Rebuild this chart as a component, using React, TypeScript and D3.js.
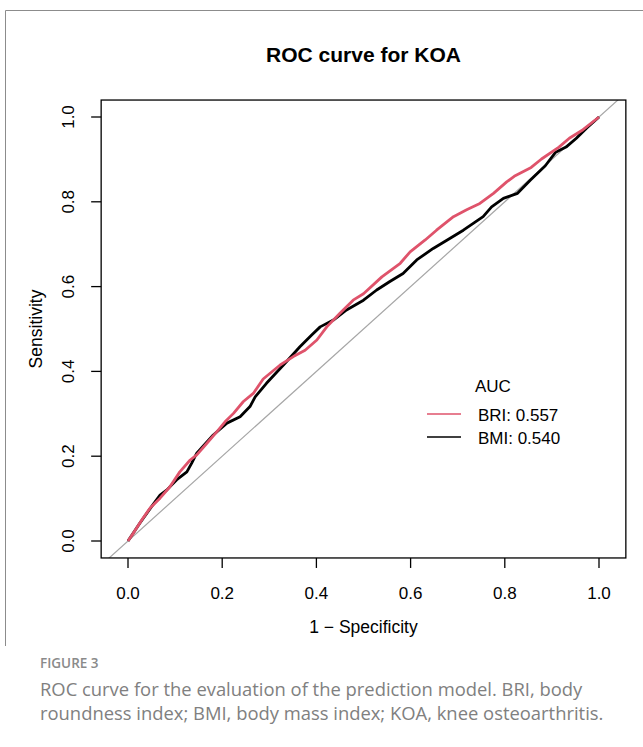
import * as d3 from 'd3';

// ROC points: [1 - specificity, sensitivity]
const briPoints: [number, number][] = [
  [0, 0], [0.011, 0.018], [0.032, 0.054], [0.047, 0.078], [0.068, 0.101], [0.089, 0.128],
  [0.110, 0.163], [0.132, 0.191], [0.146, 0.203], [0.167, 0.230], [0.192, 0.262], [0.206, 0.281],
  [0.224, 0.301], [0.245, 0.329], [0.266, 0.348], [0.287, 0.382], [0.323, 0.415], [0.351, 0.435],
  [0.376, 0.450], [0.401, 0.474], [0.422, 0.505], [0.450, 0.537], [0.478, 0.568], [0.500, 0.583],
  [0.539, 0.623], [0.578, 0.655], [0.599, 0.682], [0.631, 0.710], [0.655, 0.733], [0.691, 0.765],
  [0.719, 0.781], [0.747, 0.796], [0.776, 0.820], [0.804, 0.847], [0.820, 0.860], [0.856, 0.881],
  [0.878, 0.901], [0.915, 0.929], [0.937, 0.950], [0.966, 0.970], [1, 1],
];

const bmiPoints: [number, number][] = [
  [0, 0], [0.025, 0.042], [0.050, 0.081], [0.068, 0.108], [0.082, 0.120], [0.103, 0.144],
  [0.125, 0.163], [0.135, 0.183], [0.146, 0.207], [0.181, 0.250], [0.210, 0.278], [0.238, 0.293],
  [0.259, 0.317], [0.270, 0.340], [0.294, 0.372], [0.330, 0.415], [0.365, 0.458], [0.390, 0.486],
  [0.408, 0.505], [0.436, 0.521], [0.464, 0.545], [0.500, 0.568], [0.528, 0.592], [0.556, 0.612],
  [0.584, 0.631], [0.613, 0.663], [0.648, 0.690], [0.684, 0.714], [0.712, 0.733], [0.733, 0.749],
  [0.754, 0.765], [0.772, 0.788], [0.797, 0.808], [0.827, 0.820], [0.854, 0.851], [0.886, 0.885],
  [0.908, 0.917], [0.930, 0.929], [0.952, 0.950], [0.974, 0.974], [1, 1],
];

const seriesNames = ['BRI', 'BMI'];
const aucValues = ['0.557', '0.540'];
const seriesColors = ['#DF536B', '#000000'];
const tickValues = [0, 0.2, 0.4, 0.6, 0.8, 1.0];

const captionLines = [
  'ROC curve for the evaluation of the prediction model. BRI, body',
  'roundness index; BMI, body mass index; KOA, knee osteoarthritis.',
];

const W = 643;
const H = 747;
const font = '"Liberation Sans", Arial, sans-serif';

export default function App() {
  const x = d3.scaleLinear().domain([0, 1]).range([128, 599]);
  const y = d3.scaleLinear().domain([0, 1]).range([541, 117]);

  // plot region (R adds a small margin around the data range)
  const bx0 = x(-0.057), bx1 = x(1.057);
  const by0 = y(-0.04), by1 = y(1.04);

  const line = d3.line<[number, number]>().x(d => x(d[0])).y(d => y(d[1]));
  const fmt = d3.format('.1f');

  return (
    <svg width={W} height={H} style={{ position: 'absolute', left: 0, top: 0, background: '#fff' }}>
      {/* figure frame */}
      <path d={`M5.5,646 V10.5 H${W}`} fill="none" stroke="#8c8c8c" strokeWidth={1} />

      <text x={(bx0 + bx1) / 2} y={62} textAnchor="middle" fontFamily={font} fontWeight="bold" fontSize={21}>
        ROC curve for KOA
      </text>

      <defs>
        <clipPath id="plotClip">
          <rect x={bx0} y={by1} width={bx1 - bx0} height={by0 - by1} />
        </clipPath>
      </defs>

      <g clipPath="url(#plotClip)">
        <line x1={x(-0.06)} y1={y(-0.06)} x2={x(1.06)} y2={y(1.06)} stroke="#a6a6a6" strokeWidth={1.2} />
        <path d={line(bmiPoints) || ''} fill="none" stroke={seriesColors[1]} strokeWidth={2.8} strokeLinejoin="round" />
        <path d={line(briPoints) || ''} fill="none" stroke={seriesColors[0]} strokeWidth={2.8} strokeLinejoin="round" />
      </g>

      <rect x={bx0} y={by1} width={bx1 - bx0} height={by0 - by1} fill="none" stroke="#000" strokeWidth={1.3} />

      {/* x axis */}
      <g>
        {tickValues.map(t => (
          <g key={'x' + t}>
            <line x1={x(t)} x2={x(t)} y1={by0} y2={by0 + 10} stroke="#000" strokeWidth={1.3} />
            <text x={x(t)} y={599} textAnchor="middle" fontFamily={font} fontSize={17}>{fmt(t)}</text>
          </g>
        ))}
        <text x={(bx0 + bx1) / 2} y={633} textAnchor="middle" fontFamily={font} fontSize={17.5}>1 − Specificity</text>
      </g>

      {/* y axis */}
      <g>
        {tickValues.map(t => (
          <g key={'y' + t}>
            <line x1={bx0 - 10} x2={bx0} y1={y(t)} y2={y(t)} stroke="#000" strokeWidth={1.3} />
            <text transform={`translate(73.5,${y(t)}) rotate(-90)`} textAnchor="middle" fontFamily={font} fontSize={17}>{fmt(t)}</text>
          </g>
        ))}
        <text transform={`translate(41.5,${(by0 + by1) / 2}) rotate(-90)`} textAnchor="middle" fontFamily={font} fontSize={17.5}>Sensitivity</text>
      </g>

      {/* legend */}
      <g fontFamily={font} fontSize={17}>
        <text x={475} y={392}>AUC</text>
        {seriesNames.map((name, i) => (
          <g key={name}>
            <line x1={427} x2={461} y1={414 + i * 23} y2={414 + i * 23} stroke={seriesColors[i]} strokeWidth={1.4} />
            <text x={478} y={421 + i * 23}>{`${name}: ${aucValues[i]}`}</text>
          </g>
        ))}
      </g>

      {/* caption */}
      <text x={40} y={668} fontFamily='"Open Sans", sans-serif' fontSize={13.5} fontWeight={600} fill="#8a8a8a">FIGURE 3</text>
      {captionLines.map((c, i) => (
        <text key={i} x={40} y={696 + i * 24} fontFamily='"Open Sans", sans-serif' fontSize={18.4} fill="#808080">{c}</text>
      ))}
    </svg>
  );
}
